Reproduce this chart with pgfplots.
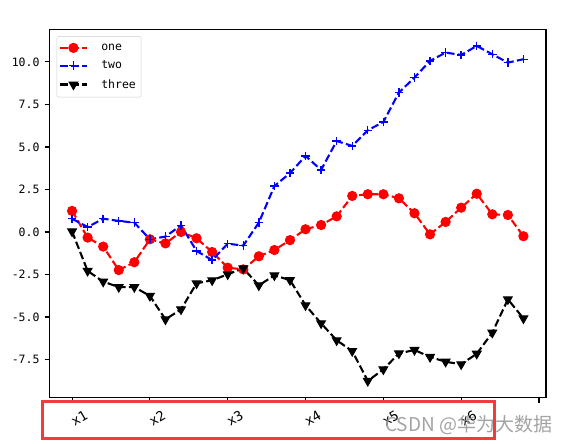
\documentclass[border=0pt]{standalone}
\usepackage{pgfplots}
\pgfplotsset{compat=1.18}
\usepackage{fontspec}
\newfontfamily\monof{DejaVu Sans Mono}
\newfontfamily\cjkf{Noto Sans CJK SC}
\definecolor{annred}{RGB}{240,60,60}
\begin{document}
\begin{tikzpicture}
\path[use as bounding box] (0pt,0pt) rectangle (573pt,444pt);
\begin{axis}[
  name=ax,
  at={(49.5pt,46.3pt)}, anchor=south west,
  scale only axis, width=496.5pt, height=368.5pt,
  xmin=-1.45, xmax=30.45, ymin=-9.745, ymax=11.925,
  axis line style={line width=1.1pt},
  tick style={black, line width=1.1pt},
  major tick length=4.9pt, tick align=outside,
  xtick pos=bottom, ytick pos=left,
  xtick={0,5,10,15,20,25,30},
  xticklabels={\mbox{x1},\mbox{x2},\mbox{x3},\mbox{x4},\mbox{x5},\mbox{x6},{}},
  ytick={-7.5,-5,-2.5,0,2.5,5,7.5,10},
  yticklabels={-7.5,-5.0,-2.5,0.0,2.5,5.0,7.5,10.0},
  yticklabel style={font=\monof\fontsize{11.5}{13}\selectfont, inner sep=0pt, xshift=-4.9pt},
  xticklabel style={font=\monof\fontsize{13.5}{15}\selectfont, rotate=30, anchor=center, yshift=-17pt, xshift=-1.5pt},
  legend style={at={(0.0145,0.981)}, anchor=north west, draw=black!20,
    rounded corners=2pt, font=\monof\fontsize{11.5}{13}\selectfont,
    inner xsep=2pt, inner ysep=5.5pt, row sep=5pt, column sep=10pt,
    nodes={inner xsep=3.3pt, inner ysep=2pt}},
  legend cell align=left,
  legend image code/.code={\draw[#1, mark repeat=2, mark phase=2] plot coordinates {(0pt,0pt) (13.5pt,0pt) (27pt,0pt)};},
  every axis plot/.append style={line width=2.08pt, dash pattern=on 7.7pt off 3.3pt},
  clip=false,
]
\addplot[red, mark=*, mark size=4.6pt, mark options={solid, line width=1pt, fill=red}] coordinates {
(0,1.24)(1,-0.33)(2,-0.86)(3,-2.24)(4,-1.78)(5,-0.43)(6,-0.67)(7,0.0)(8,-0.37)(9,-1.18)
(10,-2.10)(11,-2.20)(12,-1.43)(13,-1.06)(14,-0.48)(15,0.16)(16,0.41)(17,0.92)(18,2.12)(19,2.22)
(20,2.22)(21,1.98)(22,1.10)(23,-0.14)(24,0.59)(25,1.43)(26,2.25)(27,1.04)(28,1.00)(29,-0.25)};
\addlegendentry{one}
\addplot[blue, mark=+, mark size=4.2pt, mark options={solid, line width=1.4pt}] coordinates {
(0,0.78)(1,0.29)(2,0.78)(3,0.65)(4,0.55)(5,-0.43)(6,-0.27)(7,0.39)(8,-1.12)(9,-1.65)
(10,-0.69)(11,-0.80)(12,0.55)(13,2.70)(14,3.46)(15,4.47)(16,3.65)(17,5.35)(18,5.06)(19,5.98)
(20,6.47)(21,8.20)(22,9.08)(23,10.06)(24,10.55)(25,10.41)(26,10.94)(27,10.45)(28,9.96)(29,10.16)};
\addlegendentry{two}
\addplot[black, mark=triangle*, mark size=5pt, mark options={solid, line width=1pt, fill=black, rotate=180}] coordinates {
(0,0.03)(1,-2.29)(2,-2.92)(3,-3.24)(4,-3.24)(5,-3.76)(6,-5.14)(7,-4.55)(8,-3.02)(9,-2.84)
(10,-2.49)(11,-2.14)(12,-3.14)(13,-2.55)(14,-2.83)(15,-4.31)(16,-5.37)(17,-6.37)(18,-7.00)(19,-8.76)
(20,-8.08)(21,-7.14)(22,-6.94)(23,-7.35)(24,-7.63)(25,-7.78)(26,-7.16)(27,-5.92)(28,-3.96)(29,-5.08)};
\addlegendentry{three}
\end{axis}
\draw[annred, line width=3pt] (42pt,5.7pt) rectangle (494pt,42pt);
\node[anchor=base west, inner sep=0pt, text=black!40, opacity=0.9, font=\cjkf\fontsize{19}{21}\selectfont] at (385pt,12.3pt) {CSDN @华为大数据};
\end{tikzpicture}
\end{document}
